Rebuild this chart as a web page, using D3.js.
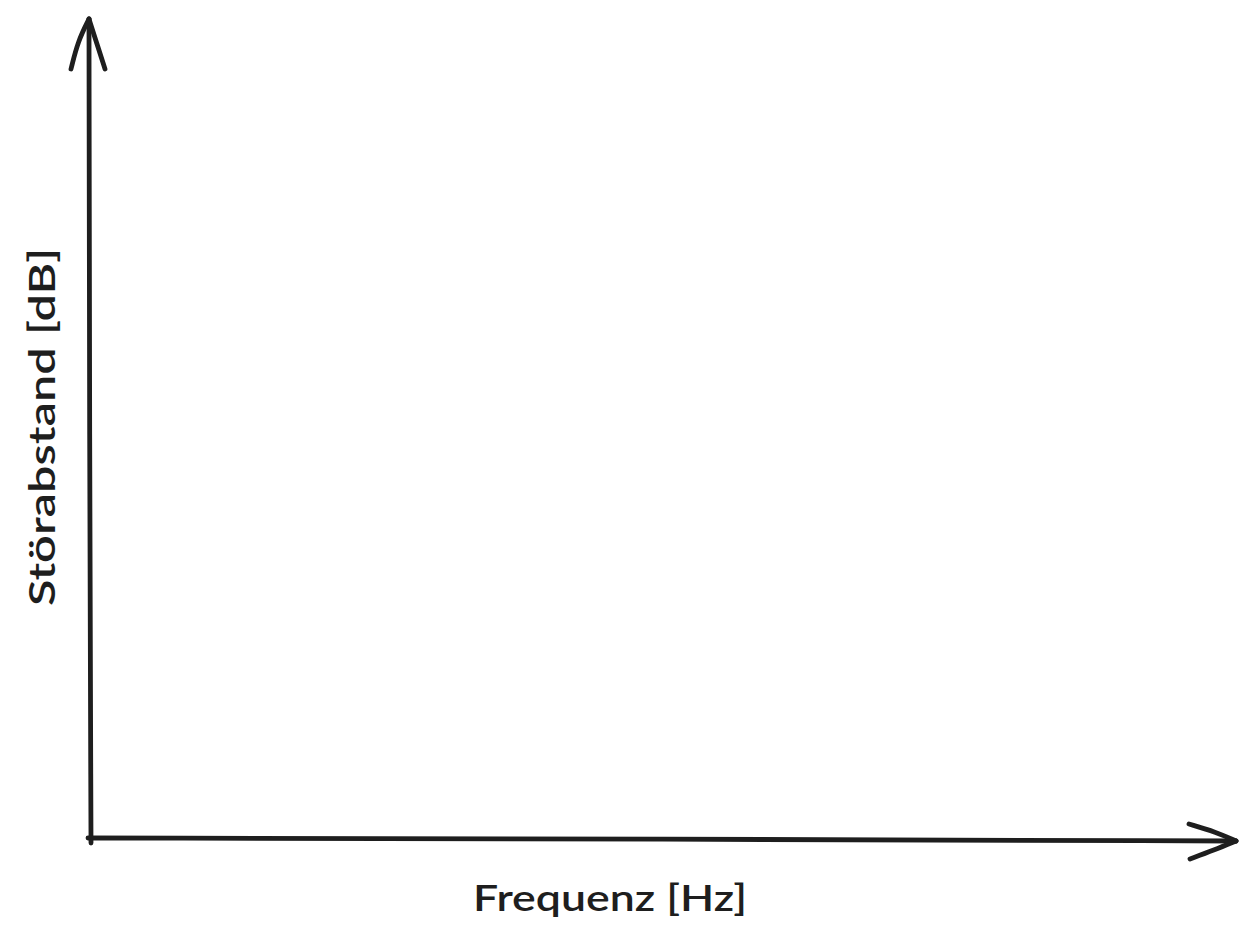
<!DOCTYPE html>
<html>
<head>
<meta charset="utf-8">
<script src="https://cdn.jsdelivr.net/npm/d3@7"></script>
<style>
  body { margin: 0; background: #fff; }
  svg { display: block; }
</style>
</head>
<body>
<div id="chart"></div>
<script>
// empty sketch chart: only axes and their titles
const xTitle = 'Frequenz [Hz]';
const yTitle = 'Störabstand [dB]';
const xDomain = [0, 1];
const yDomain = [0, 1];

const width = 1256;
const height = 945;
const ink = '#1e1e1e';
const font = "'Comic Sans MS', 'Lato', 'DejaVu Sans', sans-serif";

const svg = d3.select('#chart').append('svg')
  .attr('width', width)
  .attr('height', height);

const x = d3.scaleLinear().domain(xDomain).range([90, 1236]);
const y = d3.scaleLinear().domain(yDomain).range([838, 19]);

const line = d3.line().curve(d3.curveBasis);

function stroke(points) {
  svg.append('path')
    .attr('d', line(points))
    .attr('fill', 'none')
    .attr('stroke', ink)
    .attr('stroke-width', 4.8)
    .attr('stroke-linecap', 'round')
    .attr('stroke-linejoin', 'round');
}

// -------------------
// y axis with arrow head
const x0 = x(xDomain[0]);
stroke([[x0 + 1, y(yDomain[0]) + 5], [x0 - 0.5, y(0.5)], [x0 - 1, y(yDomain[1])]]);
stroke([[x0 - 19, y(yDomain[1]) + 50], [x0 - 12, y(yDomain[1]) + 22], [x0 - 1, y(yDomain[1])]]);
stroke([[x0 + 15, y(yDomain[1]) + 50], [x0 + 7, y(yDomain[1]) + 25], [x0 - 1, y(yDomain[1])]]);

// -------------------
// x axis with arrow head
const y0 = y(yDomain[0]);
stroke([[x0 - 2, y0], [x(0.5), y0 + 1], [x(xDomain[1]), y0 + 3]]);
stroke([[x(xDomain[1]) - 47, y0 - 14], [x(xDomain[1]) - 20, y0 - 6], [x(xDomain[1]), y0 + 3]]);
stroke([[x(xDomain[1]) - 46, y0 + 21], [x(xDomain[1]) - 22, y0 + 12], [x(xDomain[1]), y0 + 3]]);

// -------------------
// axis titles
svg.append('text')
  .attr('x', 610)
  .attr('y', 911)
  .attr('text-anchor', 'middle')
  .attr('textLength', 274)
  .attr('lengthAdjust', 'spacingAndGlyphs')
  .style('font-family', font)
  .style('font-size', '36px')
  .style('font-weight', 600)
  .style('fill', ink)
  .text(xTitle);

svg.append('text')
  .attr('transform', 'translate(55,427) rotate(-90)')
  .attr('text-anchor', 'middle')
  .attr('textLength', 358)
  .attr('lengthAdjust', 'spacingAndGlyphs')
  .style('font-family', font)
  .style('font-size', '36px')
  .style('font-weight', 600)
  .style('fill', ink)
  .text(yTitle);
</script>
</body>
</html>
